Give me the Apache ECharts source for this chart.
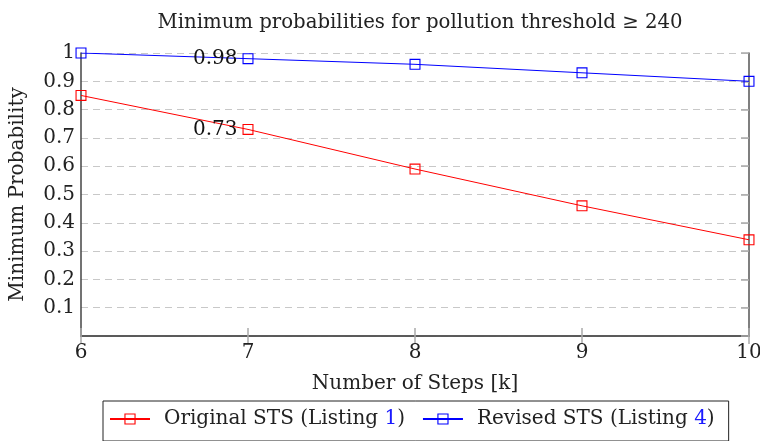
<!DOCTYPE html>
<html>
<head>
<meta charset="utf-8">
<script src="https://cdn.jsdelivr.net/npm/echarts@6/dist/echarts.min.js"></script>
<style>
  html, body { margin: 0; padding: 0; background: #fff; }
  #chart { width: 760px; height: 441px; }
</style>
</head>
<body>
<div id="chart"></div>
<script>
// Data
var steps = [6, 7, 8, 9, 10];
var originalSTS = [0.85, 0.73, 0.59, 0.46, 0.34];
var revisedSTS = [1.0, 0.98, 0.96, 0.93, 0.90];
var labelledStep = 7;

var FONT = 'DejaVu Serif';
var FS = 20;
// hollow square, the line shows through (like the pgfplots "square" mark)
var SQUARE = 'path://M0,0L10,0L10,10L0,10ZM1,1L1,9L9,9L9,1Z';
var myChart = echarts.init(document.getElementById('chart'));

// Build points, show value label only at the labelled step
function makePoints(values) {
  return steps.map(function (s, i) {
    var p = { value: [s, values[i]] };
    if (s === labelledStep) {
      p.label = {
        show: true, position: 'left', distance: 5,
        formatter: function (d) { return d.value[1].toFixed(2); },
        color: '#111', fontFamily: FONT, fontSize: FS
      };
    }
    return p;
  });
}

var tickStyle = { show: true, inside: true, length: 8, lineStyle: { color: '#aaa', width: 1.5 } };

var option = {
  animation: false,
  title: {
    text: 'Minimum probabilities for pollution threshold \u2265 240',
    left: 415, top: 8, textAlign: 'center',
    textStyle: { fontFamily: FONT, fontSize: 19.7, fontWeight: 'normal', color: '#222' }
  },
  grid: { left: 81, right: 11, top: 53, bottom: 105, outerBoundsMode: 'none', containLabel: false },
  xAxis: [{
    type: 'value', min: 6, max: 10, interval: 1,
    name: 'Number of Steps [k]', nameLocation: 'middle', nameGap: 38,
    nameTextStyle: { fontFamily: FONT, fontSize: FS, color: '#222' },
    axisLine: { show: true, lineStyle: { color: '#444', width: 1.5 } },
    axisTick: tickStyle,
    axisLabel: { fontFamily: FONT, fontSize: FS, color: '#222', margin: 7 },
    splitLine: { show: false }
  }, {
    type: 'value', min: 6, max: 10, interval: 1, position: 'top',
    axisLine: { show: true, lineStyle: { color: '#555', width: 1.5 } },
    axisTick: tickStyle,
    axisLabel: { show: false },
    splitLine: { show: false }
  }],
  yAxis: [{
    type: 'value', min: 0, max: 1, interval: 0.1,
    name: 'Minimum Probability', nameLocation: 'middle', nameGap: 53, nameRotate: 90,
    nameTextStyle: { fontFamily: FONT, fontSize: FS, color: '#222' },
    axisLine: { show: true, lineStyle: { color: '#444', width: 1.5 } },
    axisTick: { show: false },
    axisLabel: {
      fontFamily: FONT, fontSize: FS, color: '#222', margin: 6,
      formatter: function (v) { return v === 0 ? '' : String(+v.toFixed(1)); }
    },
    splitLine: { show: true, lineStyle: { color: '#c8c8c8', type: [7, 5], width: 1.2 } }
  }, {
    type: 'value', min: 0, max: 1, interval: 0.1, position: 'right',
    axisLine: { show: true, lineStyle: { color: '#555', width: 1.5 } },
    axisTick: tickStyle,
    axisLabel: { show: false },
    splitLine: { show: false }
  }],
  legend: {
    left: 103, top: 401,
    itemWidth: 40, itemHeight: 14, itemGap: 17,
    padding: [8, 14, 12, 6],
    borderColor: '#222', borderWidth: 1, borderRadius: 0,
    data: ['Original STS', 'Revised STS'],
    formatter: function (name) {
      var num = name === 'Original STS' ? '1' : '4';
      return '{a|' + name + ' (Listing }{b|' + num + '}{a|)}';
    },
    textStyle: {
      fontFamily: FONT, fontSize: FS, color: '#222', padding: [0, 0, 0, 9],
      rich: {
        a: { fontFamily: FONT, fontSize: FS, color: '#222' },
        b: { fontFamily: FONT, fontSize: FS, color: '#1a1aff' }
      }
    }
  },
  series: [{
    name: 'Original STS', type: 'line',
    data: makePoints(originalSTS),
    symbol: SQUARE, symbolSize: 11,
    lineStyle: { color: '#ff0000', width: 1 },
    itemStyle: { color: '#ff0000' },
    z: 3
  }, {
    name: 'Revised STS', type: 'line',
    data: makePoints(revisedSTS),
    symbol: SQUARE, symbolSize: 11,
    lineStyle: { color: '#0000ff', width: 1 },
    itemStyle: { color: '#0000ff' },
    z: 4
  }]
};

myChart.setOption(option);
</script>
</body>
</html>
